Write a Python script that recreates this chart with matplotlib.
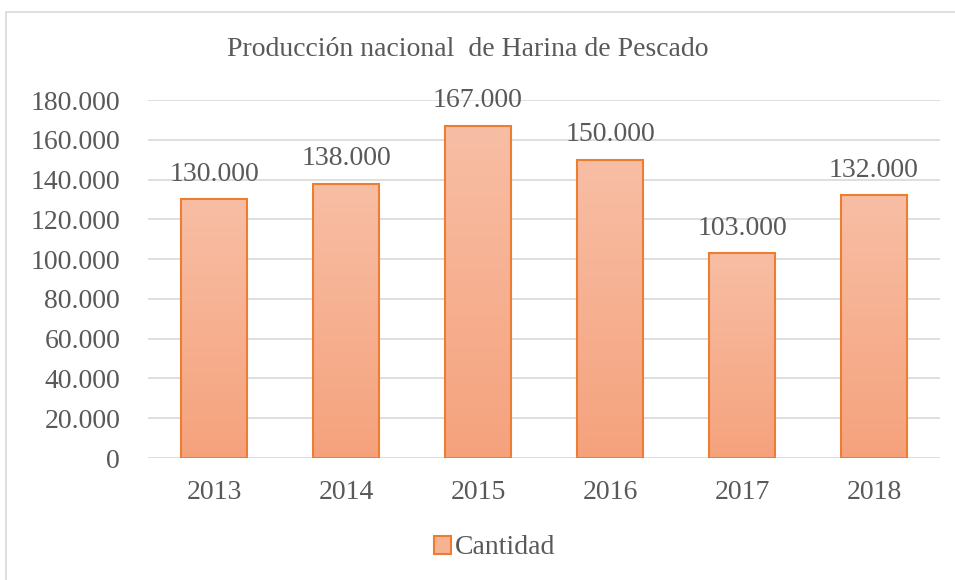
import numpy as np
import matplotlib.pyplot as plt
from matplotlib.patches import Rectangle
from matplotlib.colors import LinearSegmentedColormap

years = ['2013', '2014', '2015', '2016', '2017', '2018']
cantidad = [130000, 138000, 167000, 150000, 103000, 132000]
yticks = [0, 20000, 40000, 60000, 80000, 100000, 120000, 140000, 160000, 180000]


def fmt(v):
    return '{:,}'.format(v).replace(',', '.')


plt.rcParams['font.family'] = ['Liberation Serif', 'DejaVu Serif']
txt = '#595959'

fig = plt.figure(figsize=(9.55, 5.8), dpi=100)
W, H = 955, 580
ax = fig.add_axes([148 / W, (H - 458) / H, (940 - 148) / W, (458 - 100) / H])

# outer chart frame
fig.patches.append(Rectangle((6 / W, -0.1), 1.2, (H - 12) / H + 0.1,
                             transform=fig.transFigure, fill=False,
                             edgecolor='#D9D9D9', linewidth=1.2))

x = np.arange(len(years))
bars = ax.bar(x, cantidad, width=0.5, color='none', edgecolor='#ED7D31',
              linewidth=1.5, zorder=3, label='Cantidad')

cmap = LinearSegmentedColormap.from_list('g', ['#F5A27C', '#F8BEA5'])
grad = np.linspace(0, 1, 256).reshape(-1, 1)
for b in bars:
    bx, by = b.get_x(), b.get_y()
    im = ax.imshow(grad, cmap=cmap, aspect='auto', origin='lower',
                   extent=[bx, bx + b.get_width(), by, by + b.get_height()],
                   zorder=2)
    im.set_clip_path(b)

for xi, v in zip(x, cantidad):
    ax.annotate(fmt(v), (xi, v), xytext=(0, 9), textcoords='offset points',
                ha='center', va='bottom', fontsize=20, color=txt)

ax.set_xlim(-0.5, len(years) - 0.5)
ax.set_ylim(0, 180000)
ax.set_yticks(yticks)
ax.set_yticklabels([fmt(v) for v in yticks])
ax.set_xticks(x)
ax.set_xticklabels(years)
ax.tick_params(length=0, labelsize=20, labelcolor=txt)
ax.tick_params(axis='y', pad=20)
ax.tick_params(axis='x', pad=16)
ax.grid(axis='y', color='#D9D9D9', linewidth=1.2, zorder=0)
for s in ax.spines.values():
    s.set_visible(False)

fig.text(468 / W, 1 - 50 / H, 'Producción nacional  de Harina de Pescado',
         ha='center', va='center', fontsize=20, color=txt)

leg = fig.legend(handles=[Rectangle((0, 0), 1, 1, facecolor='#F6B394',
                                    edgecolor='#ED7D31', linewidth=1.5)],
                 labels=['Cantidad'], loc='center', bbox_to_anchor=(495 / W, 1 - 548 / H),
                 frameon=False, fontsize=20, handlelength=0.6, handleheight=0.6,
                 handletextpad=0.15, labelcolor=txt)

fig.savefig('out.png', dpi=100, facecolor='white')
